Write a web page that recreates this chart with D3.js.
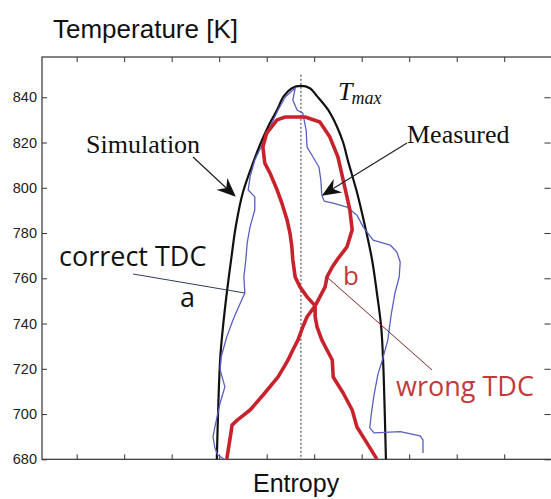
<!DOCTYPE html>
<html>
<head>
<meta charset="utf-8">
<script src="https://cdn.jsdelivr.net/npm/d3@7"></script>
<style>
  body { margin: 0; background: #fff; }
  svg { display: block; }
</style>
</head>
<body>
<div id="chart"></div>
<script>
// Temperature ticks and entropy ticks (entropy axis has no labels)
const tempTicks = [680, 700, 720, 740, 760, 780, 800, 820, 840];
const entropyTicks = [1, 2, 3, 4, 5, 6, 7, 8, 9, 10];

// Simulation curve (black)
const simEntropy = [3.95, 4.02, 4.08, 4.16, 4.25, 4.35, 4.50, 4.73, 4.88, 5.03, 5.22, 5.36, 5.53, 5.72,
                    5.91, 6.06, 6.29, 6.48, 6.61, 6.71, 6.90, 7.07, 7.22, 7.32, 7.41, 7.45, 7.51];
const simTemp = [680, 724, 738.5, 753.5, 768, 783, 798, 812, 820, 827, 834.5, 840.5, 844, 845,
                 844, 840.5, 834.5, 827, 820, 812, 798, 783, 768, 753.5, 738.5, 724, 680];

// Measured, correct TDC (blue)
const measEntropy = [4.10, 3.97, 3.91, 3.87, 3.91, 4.02, 4.12, 4.02, 4.04, 4.16, 4.29, 4.38, 4.54, 4.52,
                     4.56, 4.59, 4.65, 4.75, 4.75, 4.61, 4.65, 4.75, 4.92, 5.07, 5.24, 5.39, 5.60,
                     5.57, 5.55, 5.64, 5.76, 5.83, 5.85, 5.95, 6.10, 6.14, 6.16, 6.21, 6.40, 6.69,
                     6.90, 7.03, 7.24, 7.60, 7.74, 7.81, 7.79, 7.70, 7.62, 7.55, 7.45, 7.34, 7.26,
                     7.20, 7.17, 7.26, 7.81, 8.23, 8.29, 8.29];
const measTemp = [680.1, 681.9, 685.0, 689.9, 694.3, 704.9, 712.0, 719.5, 725.2, 734.1, 741.6, 746.0, 753.5, 760.6,
                  768.1, 775.7, 782.7, 790.3, 796.0, 799.0, 804.8, 812.3, 819.8, 826.9, 834.4, 840.1, 844.1,
                  841.0, 838.8, 834.4, 833.0, 825.5, 818.0, 814.5, 809.2, 803.4, 796.8, 794.1, 793.2, 791.5,
                  787.9, 782.7, 776.9, 774.7, 771.6, 767.2, 760.6, 753.5, 743.8, 732.8, 724.9, 717.4, 708.5,
                  699.6, 693.9, 691.7, 692.2, 690.4, 688.6, 682.8];

// Measured, wrong TDC (red)
const wrongEntropy = [4.16, 4.19, 4.25, 4.27, 4.38, 4.65, 4.96, 5.24, 5.39, 5.45, 5.55, 5.66, 5.76, 5.85,
                      6.02, 6.12, 6.23, 6.27, 6.38, 6.48, 6.69, 6.80, 6.75, 6.69, 6.61, 6.50, 6.33,
                      6.12, 5.81, 5.39, 5.22, 5.00, 4.92, 4.96, 5.07, 5.22, 5.32, 5.43, 5.49, 5.53,
                      5.55, 5.60, 5.70, 5.85, 6.02, 6.02, 6.06, 6.16, 6.27, 6.38, 6.40, 6.61, 6.80,
                      6.90, 7.07, 7.32];
const wrongTemp = [680.1, 684.1, 692.0, 695.1, 697.3, 701.8, 709.3, 716.4, 721.7, 723.9, 728.3, 732.8, 738.5, 743.0,
                   747.8, 751.8, 756.2, 760.6, 765.0, 768.1, 773.9, 781.4, 790.3, 796.0, 803.4, 813.6, 822.4,
                   829.1, 831.3, 831.3, 830.0, 824.2, 818.0, 810.9, 806.5, 799.0, 793.2, 785.7, 780.0, 773.8,
                   768.1, 760.6, 756.2, 751.8, 747.8, 743.0, 738.5, 732.8, 728.3, 723.9, 716.4, 709.3, 701.8,
                   694.3, 688.6, 680.1];

// Entropy at T_max (dotted reference line)
const tmaxEntropy = 5.72;

const width = 551, height = 499;
const plotLeft = 42, plotRight = 551, plotTop = 57, plotBottom = 459.3;

const svg = d3.select("#chart").append("svg")
    .attr("width", width)
    .attr("height", height);

const x = d3.scaleLinear().domain([0.27, 10.985]).range([plotLeft, plotRight]);
const y = d3.scaleLinear().domain([680, 857.8]).range([plotBottom, plotTop]);

/*----------------------
AXES
----------------------*/
const axisColor = "#333";

svg.append("g")
    .attr("transform", `translate(0,${plotBottom})`)
    .call(d3.axisBottom(x).tickValues(entropyTicks).tickSize(-5).tickFormat(""));
svg.append("g")
    .attr("transform", `translate(0,${plotTop})`)
    .call(d3.axisTop(x).tickValues(entropyTicks).tickSize(-5).tickFormat(""));
svg.append("g")
    .attr("transform", `translate(${plotLeft},0)`)
    .call(d3.axisLeft(y).tickValues(tempTicks).tickSize(-5).tickPadding(5));
svg.append("g")
    .attr("transform", `translate(${plotRight - 0.5},0)`)
    .call(d3.axisRight(y).tickValues(tempTicks).tickSize(-6).tickFormat(""));

svg.selectAll(".domain").remove();
svg.selectAll(".tick line").attr("stroke", axisColor);
svg.selectAll(".tick text")
    .attr("font-family", "Liberation Sans, Arial, sans-serif")
    .attr("font-size", 14.5)
    .attr("fill", "#222");

svg.append("rect")
    .attr("x", plotLeft)
    .attr("y", plotTop)
    .attr("width", plotRight - plotLeft + 2)
    .attr("height", plotBottom - plotTop)
    .attr("fill", "none")
    .attr("stroke", axisColor)
    .attr("stroke-width", 1.2);

svg.append("text")
    .attr("x", 53)
    .attr("y", 38)
    .attr("font-family", "Liberation Sans, Arial, sans-serif")
    .attr("font-size", 26)
    .attr("fill", "#111")
    .text("Temperature [K]");

svg.append("text")
    .attr("x", 253)
    .attr("y", 492)
    .attr("font-family", "Liberation Sans, Arial, sans-serif")
    .attr("font-size", 25)
    .attr("fill", "#111")
    .text("Entropy");

/*----------------------
CURVES
----------------------*/
svg.append("line")
    .attr("x1", x(tmaxEntropy)).attr("x2", x(tmaxEntropy))
    .attr("y1", y(850)).attr("y2", y(680))
    .attr("stroke", "#555")
    .attr("stroke-width", 1.2)
    .attr("stroke-dasharray", "2,2");

const line = d3.line().x(d => x(d[0])).y(d => y(d[1]));

svg.append("path")
    .datum(simEntropy.map((s, i) => [s, simTemp[i]]))
    .attr("d", line.curve(d3.curveCatmullRom))
    .attr("fill", "none")
    .attr("stroke", "#111")
    .attr("stroke-width", 2.2);

svg.append("path")
    .datum(measEntropy.map((s, i) => [s, measTemp[i]]))
    .attr("d", line.curve(d3.curveLinear))
    .attr("fill", "none")
    .attr("stroke", "#5a5fc2")
    .attr("stroke-width", 1.3)
    .attr("stroke-linejoin", "round");

svg.append("path")
    .datum(wrongEntropy.map((s, i) => [s, wrongTemp[i]]))
    .attr("d", line.curve(d3.curveLinear))
    .attr("fill", "none")
    .attr("stroke", "#c8232c")
    .attr("stroke-width", 3.6)
    .attr("stroke-linejoin", "round");

/*----------------------
ANNOTATIONS
----------------------*/
function arrow(x0, y0, x1, y1) {
    const a = Math.atan2(y1 - y0, x1 - x0);
    const len = 19, half = 8, notch = 13;
    const bx = x1 - len * Math.cos(a), by = y1 - len * Math.sin(a);
    const nx = x1 - notch * Math.cos(a), ny = y1 - notch * Math.sin(a);
    const px = -Math.sin(a) * half, py = Math.cos(a) * half;
    svg.append("line")
        .attr("x1", x0).attr("y1", y0).attr("x2", nx).attr("y2", ny)
        .attr("stroke", "#222").attr("stroke-width", 1.2);
    svg.append("path")
        .attr("d", `M${x1},${y1}L${bx + px},${by + py}L${nx},${ny}L${bx - px},${by - py}Z`)
        .attr("fill", "#111");
}

arrow(193, 157, x(4.35), y(796));
arrow(407, 143, x(6.16), y(796.5));

svg.append("line")
    .attr("x1", 133).attr("y1", 274).attr("x2", x(4.54)).attr("y2", y(753.5))
    .attr("stroke", "#2e3d5c").attr("stroke-width", 1);
svg.append("line")
    .attr("x1", 328).attr("y1", 278).attr("x2", 432).attr("y2", 370)
    .attr("stroke", "#7a2a2a").attr("stroke-width", 1);

const serif = "Liberation Serif, Times New Roman, serif";
const sans = "Open Sans, Noto Sans, sans-serif";

svg.append("text").attr("x", 86).attr("y", 153)
    .attr("font-family", serif).attr("font-size", 26).attr("fill", "#111")
    .text("Simulation");
svg.append("text").attr("x", 407).attr("y", 143)
    .attr("font-family", serif).attr("font-size", 26).attr("fill", "#111")
    .text("Measured");

const tmax = svg.append("text").attr("x", 338).attr("y", 100)
    .attr("font-family", serif).attr("font-style", "italic").attr("fill", "#111");
tmax.append("tspan").attr("font-size", 26).text("T");
tmax.append("tspan").attr("font-size", 18).attr("dy", 4).attr("dx", -1).text("max");

svg.append("text").attr("x", 59).attr("y", 266)
    .attr("font-family", sans).attr("font-size", 27).attr("fill", "#111")
    .text("correct TDC");
svg.append("text").attr("x", 180).attr("y", 307)
    .attr("font-family", sans).attr("font-size", 27).attr("fill", "#111")
    .text("a");
svg.append("text").attr("x", 343).attr("y", 285)
    .attr("font-family", sans).attr("font-size", 26).attr("fill", "#c23b3b")
    .text("b");
svg.append("text").attr("x", 396).attr("y", 396)
    .attr("font-family", sans).attr("font-size", 27).attr("fill", "#c23b3b")
    .text("wrong TDC");
</script>
</body>
</html>
